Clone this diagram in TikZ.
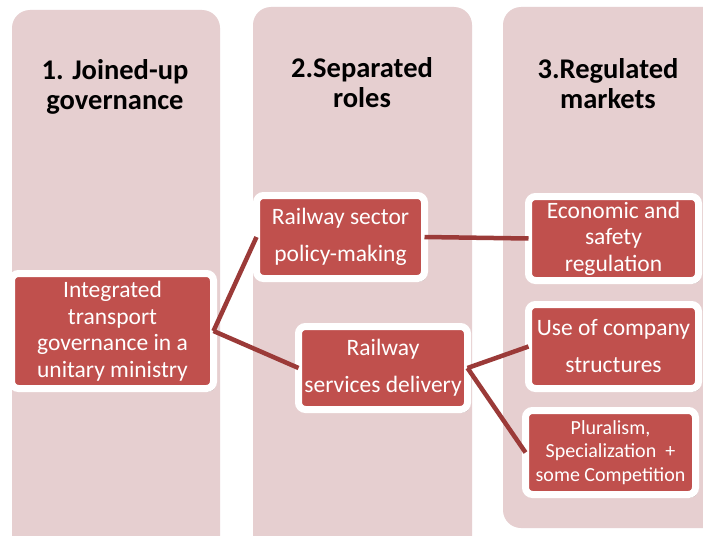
\documentclass[tikz,border=0pt]{standalone}
\usepackage{fontspec}
\setmainfont{Carlito}
\usetikzlibrary{shadows}
\pgfdeclarelayer{bg}
\pgfsetlayers{bg,main}
\definecolor{colfill}{RGB}{230,207,208}
\definecolor{boxred}{RGB}{192,80,77}
\definecolor{linkred}{RGB}{155,58,56}
\begin{document}
\begin{tikzpicture}[x=1pt,y=-1pt,
  column/.style={fill=colfill, draw=none, rounded corners=18pt},
  heading/.style={align=center, font=\fontsize{28.5}{30}\selectfont\bfseries, text=black, inner sep=0pt},
  rolebox/.style={fill=boxred, draw=white, line width=7pt, rounded corners=7pt, text=white, align=center, inner sep=0pt, outer sep=0pt,
    drop shadow={shadow xshift=2pt, shadow yshift=-3pt, opacity=0.3, fill=black}},
  tight/.style={font=\fontsize{23.5}{26.5}\selectfont},
  loose/.style={font=\fontsize{23.5}{37}\selectfont},
  small/.style={font=\fontsize{20}{23.5}\selectfont},
  link/.style={draw=linkred, line width=4.5pt}]
\useasboundingbox (0,0) rectangle (703,535);

\begin{pgfonlayer}{bg}
  \fill[white] (0,0) rectangle (703,535);
  \path[column] (12,10) rectangle (220,575);
  \path[column] (253,7) rectangle (472,575);
  \path[column] (503,7) rectangle (730,528);
\end{pgfonlayer}

\node[heading] (h1) at (115,87) {1. Joined-up\\governance};
\node[heading] (h2) at (362,83) {2.Separated\\roles};
\node[heading] (h3) at (608,84) {3.Regulated\\markets};

\node[rolebox, tight, minimum width=202pt, minimum height=115pt] (A) at (112.5,331)
  {Integrated\\transport\\governance in a\\unitary ministry};
\node[rolebox, loose, minimum width=168pt, minimum height=83pt] (B) at (340.5,237)
  {Railway sector\\policy-making};
\node[rolebox, loose, minimum width=169pt, minimum height=83pt] (C) at (383,368)
  {Railway\\services delivery};
\node[rolebox, tight, minimum width=170pt, minimum height=84pt] (D) at (613.5,238.5)
  {Economic and\\safety\\regulation};
\node[rolebox, loose, minimum width=170pt, minimum height=84pt] (E) at (613.5,346.5)
  {Use of company\\structures};
\node[rolebox, small, minimum width=170pt, minimum height=84pt] (F) at (610.5,452.5)
  {Pluralism,\\Specialization\ \ +\\some Competition};

\draw[link] (A.east) -- (B.west);
\draw[link] (A.east) -- (C.west);
\draw[link] (B.east) -- (D.west);
\draw[link] (C.east) -- (E.west);
\draw[link] (C.east) -- (F.west);
\end{tikzpicture}
\end{document}
